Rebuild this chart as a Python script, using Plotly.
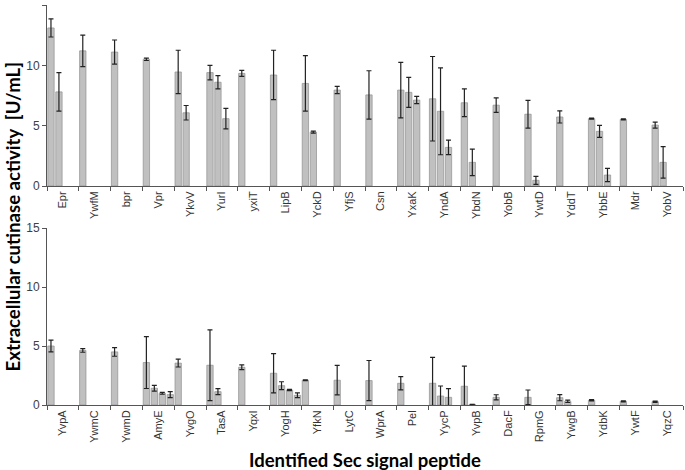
import plotly.graph_objects as go

# ---- top panel data ----
top_cats = ["Epr", "YwfM", "bpr", "Vpr", "YkvV", "YurI", "yxiT", "LipB", "YckD", "YfjS",
            "Csn", "YxaK", "YndA", "YbdN", "YobB", "YwtD", "YddT", "YbbE", "Mdr", "YobV"]
top_s1 = [13.1, 11.2, 11.1, 10.5, 9.45, 9.4, 9.33, 9.2, 8.5, 7.95,
          7.55, 7.95, 7.23, 6.9, 6.7, 5.95, 5.72, 5.58, 5.52, 5.05]
top_e1 = [0.75, 1.3, 1.0, 0.1, 1.8, 0.6, 0.25, 2.05, 2.3, 0.3,
          2.0, 2.3, 3.5, 1.15, 0.6, 1.15, 0.5, 0.05, 0.05, 0.25]
top_s2 = [7.8, None, None, None, 6.07, 8.6, None, None, 4.47, None,
          None, 7.76, 6.19, 1.96, None, 0.47, None, 4.53, None, 1.96]
top_e2 = [1.6, 0, 0, 0, 0.6, 0.55, 0, 0, 0.08, 0,
          0, 1.25, 3.6, 1.1, 0, 0.33, 0, 0.5, 0, 1.3]
top_s3 = [None, None, None, None, None, 5.58, None, None, None, None,
          None, 7.12, 3.2, None, None, None, None, 0.91, None, None]
top_e3 = [0, 0, 0, 0, 0, 0.85, 0, 0, 0, 0,
          0, 0.3, 0.6, 0, 0, 0, 0, 0.55, 0, 0]

# ---- bottom panel data ----
bot_cats = ["YvpA", "YwmC", "YwmD", "AmyE", "YvgO", "TasA", "YqxI", "YogH", "YfkN", "LytC",
            "WprA", "Pel", "YycP", "YvpB", "DacF", "RpmG", "YwgB", "YdbK", "YwtF", "YqzC"]
bot_s1 = [5.0, 4.62, 4.5, 3.6, 3.55, 3.37, 3.2, 2.69, 2.1, 2.1,
          2.07, 1.84, 1.84, 1.59, 0.65, 0.65, 0.62, 0.4, 0.31, 0.28]
bot_e1 = [0.5, 0.15, 0.37, 2.2, 0.33, 3.0, 0.2, 1.67, 0.03, 1.25,
          1.7, 0.56, 2.2, 1.7, 0.22, 0.62, 0.26, 0.05, 0.04, 0.05]
bot_s2 = [None, None, None, 1.42, None, 1.13, None, 1.64, None, None,
          None, None, 0.76, 0.05, None, None, 0.31, None, None, None]
bot_e2 = [0, 0, 0, 0.25, 0, 0.25, 0, 0.33, 0, 0,
          0, 0, 0.85, 0, 0, 0, 0.1, 0, 0, 0]
bot_s3 = [None, None, None, 0.99, None, None, None, 1.27, None, None,
          None, None, 0.65, None, None, None, None, None, None, None]
bot_e3 = [0, 0, 0, 0.08, 0, 0, 0, 0.05, 0, 0,
          0, 0, 0.74, 0, 0, 0, 0, 0, 0, 0]
bot_s4 = [None, None, None, 0.88, None, None, None, 0.82, None, None,
          None, None, None, None, None, None, None, None, None, None]
bot_e4 = [0, 0, 0, 0.25, 0, 0, 0, 0.2, 0, 0,
          0, 0, 0, 0, 0, 0, 0, 0, 0, 0]

top_s4 = [None] * len(top_cats)
top_e4 = [0] * len(top_cats)

BAR = "#c0c0c0"
EDGE = "#8f8f8f"
ERR = "#222222"

fig = go.Figure()

def add_series(cats, vals, errs, xa, ya):
    fig.add_trace(go.Bar(
        x=cats, y=vals, xaxis=xa, yaxis=ya,
        marker=dict(color=BAR, line=dict(color=EDGE, width=0.7)),
        error_y=dict(type="data", array=errs, visible=True, color=ERR,
                     thickness=1.2, width=2.5),
        showlegend=False, hoverinfo="x+y",
    ))

for v, e in [(top_s1, top_e1), (top_s2, top_e2), (top_s3, top_e3), (top_s4, top_e4)]:
    add_series(top_cats, v, e, "x", "y")
for v, e in [(bot_s1, bot_e1), (bot_s2, bot_e2), (bot_s3, bot_e3), (bot_s4, bot_e4)]:
    add_series(bot_cats, v, e, "x2", "y2")

xcommon = dict(type="category", showline=True, linecolor="#555555", linewidth=1,
               ticks="outside", ticklen=4, tickcolor="#555555", tickson="boundaries",
               tickangle=-90, automargin=False,
               tickfont=dict(family="Liberation Sans, Arial", size=11, color="#333333"),
               showgrid=False, zeroline=False)
ycommon = dict(range=[0, 15], tickvals=[0, 5, 10, 15], showline=True, linecolor="#555555",
               linewidth=1, ticks="outside", ticklen=4, tickcolor="#555555", automargin=False,
               tickfont=dict(family="Liberation Sans, Arial", size=12, color="#404040"),
               showgrid=False, zeroline=False)

fig.update_layout(
    width=685, height=470,
    margin=dict(l=47, r=2, t=5, b=65, autoexpand=False),
    paper_bgcolor="white", plot_bgcolor="white",
    barmode="group", bargap=0.0, bargroupgap=0.2,
    xaxis=dict(**xcommon, anchor="y", domain=[0, 1]),
    yaxis=dict(**ycommon, anchor="x", domain=[0.5475, 1]),
    xaxis2=dict(**xcommon, anchor="y2", domain=[0, 1]),
    yaxis2=dict(**ycommon, anchor="x2", domain=[0, 0.4425]),
    showlegend=False,
)

fig.add_annotation(text="<b>Extracellular cutinase activity  [U/mL]</b>", textangle=-90,
                   xref="paper", yref="paper", x=-0.053, y=0.472,
                   xanchor="center", yanchor="middle", showarrow=False,
                   font=dict(family="Lato, Open Sans", size=18.6, color="black"))
fig.add_annotation(text="<b>Identified Sec signal peptide</b>",
                   xref="paper", yref="paper", x=0.5, y=-0.1375,
                   xanchor="center", yanchor="middle", showarrow=False,
                   font=dict(family="Lato, Open Sans", size=18.5, color="black"))

fig.write_html("out.html", config={"displayModeBar": False},
               post_script="document.body.style.margin='0px';")
